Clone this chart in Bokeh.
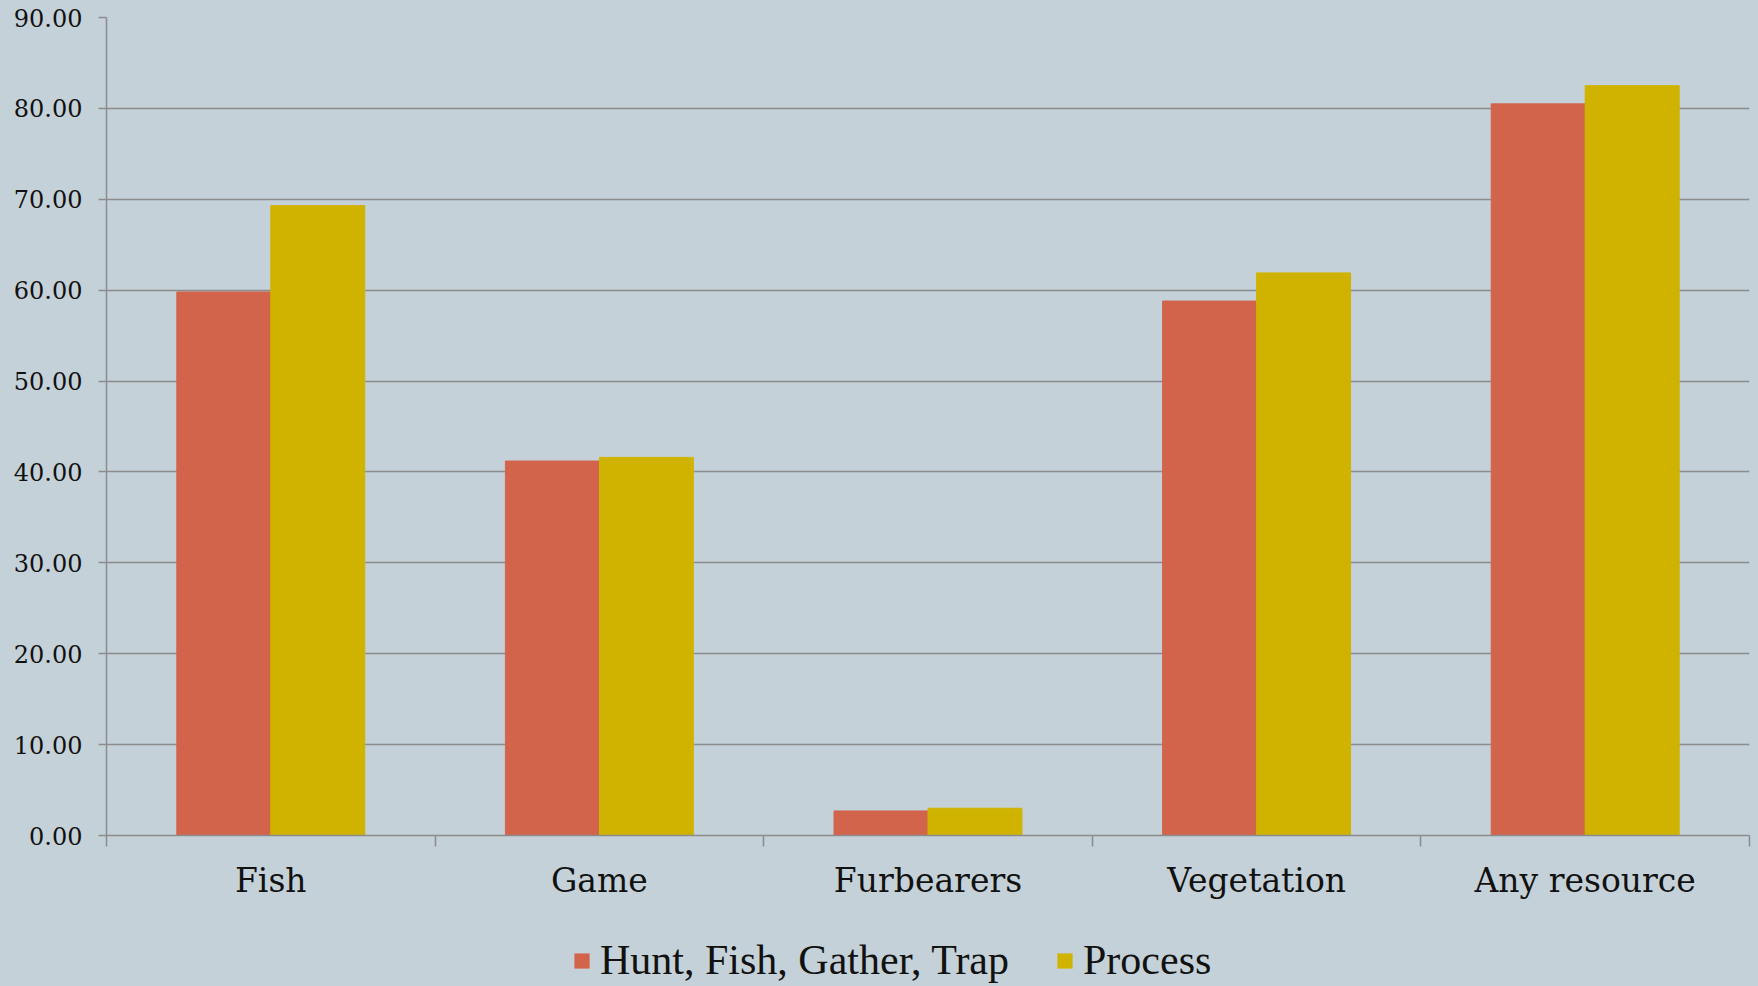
from bokeh.plotting import figure
from bokeh.layouts import column
from bokeh.models import (ColumnDataSource, FixedTicker, NumeralTickFormatter,
                          Legend, LegendItem, Range1d)
from bokeh.transform import dodge
from bokeh.embed import file_html
from bokeh.resources import INLINE

categories = ["Fish", "Game", "Furbearers", "Vegetation", "Any resource"]
hunt_fish_gather_trap = [59.8, 41.2, 2.7, 58.8, 80.5]
process = [69.3, 41.6, 3.0, 61.9, 82.5]
series_names = ["Hunt, Fish, Gather, Trap", "Process"]
y_ticks = [0, 10, 20, 30, 40, 50, 60, 70, 80, 90]

BG = "#C5D1D8"
RED = "#D2644B"
YEL = "#CFB300"
GRID = "#8C8C8C"

centers = [i + 0.5 for i in range(len(categories))]
source = ColumnDataSource(dict(x=centers, a=hunt_fish_gather_trap, b=process))

p = figure(width=1758, height=906, output_backend="svg", toolbar_location=None,
           x_range=Range1d(0, len(categories)), y_range=Range1d(0, 90),
           min_border_left=106, min_border_right=9, min_border_top=17,
           min_border_bottom=71)
p.background_fill_color = BG
p.border_fill_color = BG
p.outline_line_color = None

bw = 0.286
r1 = p.vbar(x=dodge("x", -bw / 2), top="a", width=bw, source=source,
            fill_color=RED, line_color=RED)
r2 = p.vbar(x=dodge("x", bw / 2), top="b", width=bw, source=source,
            fill_color=YEL, line_color=YEL)

# y axis
p.yaxis.ticker = FixedTicker(ticks=y_ticks)
p.yaxis.formatter = NumeralTickFormatter(format="0.00")
p.yaxis.axis_line_color = GRID
p.yaxis.axis_line_width = 1.5
p.yaxis.major_tick_line_color = GRID
p.yaxis.major_tick_line_width = 1.5
p.yaxis.major_tick_out = 8
p.yaxis.major_tick_in = 0
p.yaxis.minor_tick_line_color = None
p.yaxis.major_label_text_font = "DejaVu Serif"
p.yaxis.major_label_text_font_size = "24px"
p.yaxis.major_label_text_color = "#111111"
p.yaxis.major_label_standoff = 16

# x axis
p.xaxis.ticker = FixedTicker(ticks=centers,
                             minor_ticks=list(range(len(categories) + 1)))
p.xaxis.major_label_overrides = {c: name for c, name in zip(centers, categories)}
p.xaxis.axis_line_color = GRID
p.xaxis.axis_line_width = 1.5
p.xaxis.major_tick_line_color = None
p.xaxis.major_tick_out = 0
p.xaxis.major_tick_in = 0
p.xaxis.minor_tick_line_color = GRID
p.xaxis.minor_tick_line_width = 1.5
p.xaxis.minor_tick_out = 11
p.xaxis.minor_tick_in = 0
p.xaxis.major_label_text_font = "DejaVu Serif"
p.xaxis.major_label_text_font_size = "33px"
p.xaxis.major_label_text_color = "#111111"
p.xaxis.major_label_standoff = 14

p.xgrid.grid_line_color = None
p.ygrid.ticker = FixedTicker(ticks=y_ticks)
p.ygrid.grid_line_color = GRID
p.ygrid.grid_line_width = 1.5

# legend strip below the chart; its renderers are degenerate (zero-size) bars
# that only provide the legend swatches
p2 = figure(width=1758, height=80, output_backend="svg", toolbar_location=None,
            x_axis_type=None, y_axis_type=None,
            x_range=Range1d(0, len(categories)), y_range=Range1d(-2000, -1000),
            min_border_left=0, min_border_right=0, min_border_top=0,
            min_border_bottom=0)
p2.background_fill_color = BG
p2.border_fill_color = BG
p2.outline_line_color = None
k1 = p2.vbar(x="x", top="a", bottom="a", width=0, source=source,
             fill_color=RED, line_color=None)
k2 = p2.vbar(x="x", top="b", bottom="b", width=0, source=source,
             fill_color=YEL, line_color=None)

legend = Legend(items=[LegendItem(label=series_names[0], renderers=[k1]),
                       LegendItem(label=series_names[1], renderers=[k2])],
                location=(466, 2), orientation="horizontal")
legend.background_fill_alpha = 0
legend.border_line_color = None
legend.margin = 0
legend.padding = 0
legend.spacing = 46
legend.glyph_width = 19
legend.glyph_height = 19
legend.label_standoff = 9
legend.label_text_font = "Liberation Serif"
legend.label_text_font_size = "42px"
legend.label_text_color = "#111111"
p2.add_layout(legend, "center")

layout = column(p, p2, spacing=0, styles={"background-color": BG})
open("out.html", "w").write(file_html(layout, INLINE))
